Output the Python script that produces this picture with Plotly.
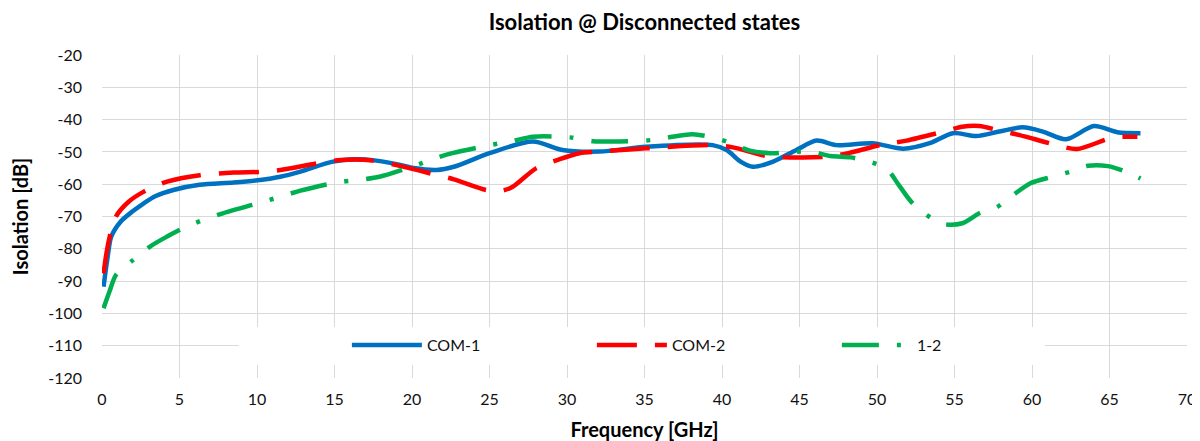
import plotly.graph_objects as go

# ---- data ----
com1_x = [0.1, 0.35, 0.6, 1.2, 2.0, 2.7, 3.5, 4.6, 6.3, 8.5, 10.2, 11.5, 12.8, 14.9, 16.4, 17.7, 19.0, 20.1, 21.6, 22.7,
          25.0, 27.8, 29.7, 32.1, 35.1, 39.4, 40.3, 41.2, 42.0, 43.3, 44.8, 46.1, 47.4, 49.7, 51.7, 53.4, 54.9, 56.4,
          57.9, 59.4, 60.7, 62.2, 64.0, 65.5, 67.0]
com1_y = [-91.7, -83, -76.2, -71.6, -68.3, -65.9, -63.6, -61.8, -60.2, -59.5, -58.7, -57.7, -56.1, -53.0, -52.3, -52.7,
          -53.8, -55.0, -55.6, -54.6, -50.4, -46.8, -49.4, -49.9, -48.4, -47.9, -49.4, -53.0, -54.6, -53.0, -49.4, -46.5,
          -47.9, -47.3, -49.0, -47.3, -44.2, -45.1, -43.7, -42.4, -43.7, -46.1, -42.0, -43.9, -44.2]

com2_x = [0.1, 0.3, 0.5, 0.9, 1.7, 2.7, 4.2, 6.3, 8.5, 10.2, 11.5, 13.9, 15.4, 17.5, 19.0, 21.3, 22.7, 24.8, 25.8,
          26.5, 28.0, 29.5, 30.8, 32.1, 35.1, 39.4, 40.7, 42.9, 44.4, 46.8, 48.3, 50.2, 51.9, 54.3, 55.5, 56.6, 57.9,
          59.2, 61.6, 62.9, 65.2, 66.8]
com2_y = [-87.6, -81, -76.2, -70.0, -65.5, -62.3, -59.2, -57.2, -56.4, -56.2, -55.6, -53.5, -52.5, -52.7, -54.1, -56.8,
          -58.5, -61.8, -62.0, -60.8, -55.1, -52.3, -50.4, -49.9, -48.9, -47.9, -48.6, -51.3, -51.7, -51.5, -50.2, -47.9,
          -46.5, -43.7, -42.2, -42.0, -43.4, -44.8, -47.9, -49.1, -45.6, -45.3]

iso12_x = [0.1, 0.5, 0.9, 2.0, 3.1, 4.2, 5.2, 6.5, 7.8, 10.2, 11.5, 12.8, 15.1, 16.5, 17.9, 20.1, 21.5, 22.6, 25.0,
           26.5, 27.8, 30.2, 31.7, 33.0, 35.5, 36.8, 38.1, 39.4, 40.5, 41.8, 43.1, 45.7, 47.0, 48.3, 49.5, 50.6, 51.4,
           52.2, 53.2, 54.2, 55.5, 56.6, 57.7, 58.8, 59.9, 61.3, 62.5, 63.6, 64.9, 66.2, 67.0]
iso12_y = [-98.4, -93, -88.1, -83.5, -79.3, -76.2, -73.7, -71.1, -69.0, -65.7, -63.9, -62.0, -59.5, -58.7, -57.7, -54.4,
           -52.0, -50.4, -47.9, -46.6, -45.3, -45.5, -46.7, -46.8, -46.3, -45.3, -44.5, -45.5, -47.1, -49.6, -50.4, -49.9,
           -51.3, -51.7, -53.0, -55.1, -60.2, -65.4, -69.5, -72.3, -72.1, -69.0, -67.2, -63.3, -59.7, -57.7, -56.1, -54.3,
           -54.4, -56.4, -58.2]

series_names = ["COM-1", "COM-2", "1-2"]
x_ticks = list(range(0, 71, 5))
y_ticks = list(range(-120, -19, 10))
y_ticktext = [str(v) for v in y_ticks]   # hyphen-minus, as in the reference

FONT = "Lato"
TXT = "#111111"
W, H = 1192, 433
fig = go.Figure()
fig.add_trace(go.Scatter(x=com1_x, y=com1_y, name=series_names[0], mode="lines",
                         line=dict(color="#0070C0", width=4.5, shape="spline", smoothing=0.8)))
fig.add_trace(go.Scatter(x=com2_x, y=com2_y, name=series_names[1], mode="lines",
                         line=dict(color="#FF0000", width=4.5, shape="spline", smoothing=0.8, dash="40px,18px")))
fig.add_trace(go.Scatter(x=iso12_x, y=iso12_y, name=series_names[2], mode="lines",
                         line=dict(color="#00B050", width=4.5, shape="spline", smoothing=0.8,
                                   dash="37px,18px,4px,18px")))

fig.add_shape(type="rect", xref="paper", yref="paper", x0=0.126, x1=0.869, y0=0.04, y1=0.158,
              fillcolor="white", line=dict(width=0), layer="above")

fig.update_layout(
    width=W, height=H,
    margin=dict(l=94, r=13, t=47, b=63, autoexpand=False),
    paper_bgcolor="white", plot_bgcolor="white",
    font=dict(family=FONT, size=16, color=TXT),
    title=dict(text="<b>Isolation @ Disconnected states</b>", x=0.5, xref="paper", xanchor="center",
               y=1 - 14 / H, yanchor="middle", font=dict(family=FONT, size=22, color="#000000")),
    showlegend=True,
    legend=dict(orientation="h", x=0.2257, xanchor="left", y=0.102, yanchor="middle",
                bgcolor="rgba(0,0,0,0)", font=dict(family=FONT, size=16, color=TXT),
                entrywidth=160, entrywidthmode="pixels", itemwidth=70),
    xaxis=dict(range=[0, 70], tickvals=x_ticks, showgrid=True, gridcolor="#D9D9D9", gridwidth=1.4,
               zeroline=False, showline=False, ticks="", ticklabelstandoff=10, automargin=False,
               tickfont=dict(size=16, color=TXT),
               title=dict(text="<b>Frequency [GHz]</b>", font=dict(family=FONT, size=20, color="#000000"),
                          standoff=15)),
    yaxis=dict(range=[-120, -20], tickvals=y_ticks, ticktext=y_ticktext, showgrid=True, gridcolor="#D9D9D9",
               gridwidth=1.4, zeroline=False, showline=False, ticks="", ticklabelstandoff=19, automargin=False,
               tickfont=dict(size=16, color=TXT),
               title=dict(text="<b>Isolation [dB]</b>", font=dict(family=FONT, size=20, color="#000000"),
                          standoff=14)),
)
fig.write_html("out.html")
